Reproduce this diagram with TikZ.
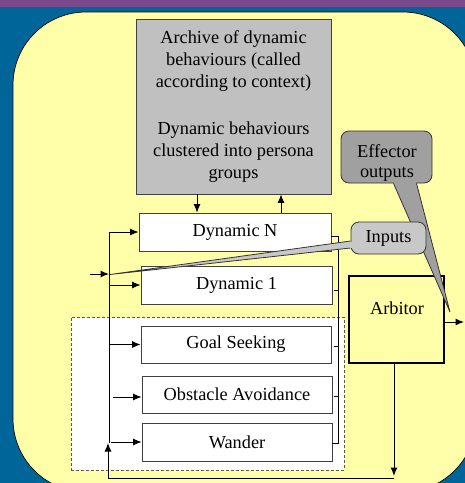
\documentclass[tikz,border=0pt]{standalone}
\usepackage{fontspec}
\setmainfont{Liberation Serif}
\usetikzlibrary{arrows.meta}
\definecolor{bgblue}{RGB}{0,102,153}
\definecolor{topband}{RGB}{122,74,140}
\definecolor{paleyellow}{RGB}{255,255,170}
\definecolor{archgray}{RGB}{192,192,192}
\definecolor{effgray}{RGB}{160,160,160}
\definecolor{inpgray}{RGB}{200,200,200}
\begin{document}
\begin{tikzpicture}[x=1pt,y=-1pt,
  lbl/.style={font=\fontsize{18.3}{22}\selectfont},
  box/.style={draw=black!75, fill=white, line width=0.8pt, inner sep=0pt, lbl},
  arr/.style={-{Latex[length=8.5pt,width=7pt]}, line width=1pt},
  conn/.style={line width=0.9pt},
  callout/.style={draw=black!80, line width=0.8pt, rounded corners=8pt, inner sep=0pt}]
\useasboundingbox (0,0) rectangle (465,483);
\fill[bgblue] (0,0) rectangle (465,483);
\fill[topband] (0,0) rectangle (465,7);
\draw[fill=paleyellow, rounded corners=73pt, line width=0.7pt] (13,12) rectangle (476,492);

% archive
\node[draw=black!75, fill=archgray, line width=0.8pt, minimum width=195pt, minimum height=175pt,
      align=center, lbl, inner sep=0pt] (arch) at (233.5,106.5)
  {Archive of dynamic\\behaviours (called\\according to context)\\[25pt]Dynamic behaviours\\clustered into persona\\groups};

% dashed group
\node[draw=black!65, dashed, dash pattern=on 3pt off 2pt, fill=white, line width=0.8pt,
      minimum width=273pt, minimum height=153pt, inner sep=0pt] (grp) at (207.5,393.5) {};

% behaviour boxes
\node[box, minimum width=192pt, minimum height=38pt] (dynN) at (235,232) {Dynamic N};
\node[box, minimum width=191pt, minimum height=38pt] (dyn1) at (236.5,285) {Dynamic 1};
\node[box, minimum width=190pt, minimum height=37pt] (goal) at (236,344.5) {Goal Seeking};
\node[box, minimum width=190pt, minimum height=37pt] (obst) at (237,394.5) {Obstacle Avoidance};
\node[box, minimum width=190pt, minimum height=38pt] (wand) at (237,442) {Wander};

% archive arrows
\draw[arr] ([xshift=-36.5pt]arch.south) -- ([xshift=-36.5pt]arch.south |- dynN.north);
\draw[arr] ([xshift=47.5pt]arch.south |- dynN.north) -- ([xshift=47.5pt]arch.south);

% input bus
\coordinate (busTop) at (109,232);
\coordinate (busBot) at (109,443);
\coordinate (inStart) at (90,274);
\coordinate (obstIn) at (113,397);
\coordinate (wandIn) at (111,442);
\draw[conn] (busTop) -- (busBot);
\draw[arr] (busTop) -- (dynN.west);
\draw[arr] (busTop |- dyn1.west) -- (dyn1.west);
\draw[arr] (busTop |- goal.west) -- (goal.west);
\draw[arr] (obstIn) -- (obst.west |- obstIn);
\draw[arr] (wandIn) -- (wand.west);
\draw[arr] (inStart) -- (busTop |- inStart);

% output collector
\coordinate (colTop) at (338,236);
\coordinate (colBot) at (338,443);
\draw[line width=0.7pt] (dynN.east |- colTop) -- (colTop) -- (colBot) -- (wand.east |- colBot);
\draw[line width=0.7pt] ([xshift=-4pt,yshift=-5pt]colTop |- dyn1.east) -- ([xshift=1pt,yshift=-5pt]colTop |- dyn1.east);
\draw[line width=0.7pt] ([xshift=-4pt,yshift=-2pt]colTop |- goal.east) -- ([xshift=1pt,yshift=-2pt]colTop |- goal.east);
\draw[line width=0.7pt] ([xshift=-4pt,yshift=-2pt]colTop |- obst.east) -- ([xshift=1pt,yshift=-2pt]colTop |- obst.east);

% arbitor
\node[draw=black, line width=2pt, fill=paleyellow, minimum width=95pt, minimum height=87pt, inner sep=0pt] (arb) at (396.5,319.5) {};
\node[lbl, inner sep=0pt] (arbtxt) at (397,308) {Arbitor};
\coordinate (outEnd) at (464,322);
\draw[arr] (arb.east |- outEnd) -- (outEnd);
\coordinate (downEnd) at (394,476);
\coordinate (fbCorner) at (394,478);
\coordinate (fbLeft) at (108,478);
\draw[arr] (arb.south -| downEnd) -- (downEnd);
\draw[conn] (fbCorner) -- (fbLeft);
\draw[arr] (fbLeft) -- (fbLeft |- busBot);

% effector callout
\coordinate (effTip) at (450,312);
\node[callout, fill=effgray, minimum width=91pt, minimum height=52pt] (eff) at (386.5,157) {};
\node[align=center, inner sep=0pt, font=\fontsize{18.3}{20}\selectfont] (efftxt) at (387,163) {Effector\\outputs};
\draw[draw=black!80, line width=0.8pt, fill=effgray] ([xshift=7pt]eff.south) -- (effTip) -- ([xshift=30pt]eff.south);
\fill[effgray] ([xshift=7.5pt,yshift=2pt]eff.south) -- ([xshift=29.5pt,yshift=2pt]eff.south) -- ([xshift=29.5pt,yshift=-1pt]eff.south) -- ([xshift=7.5pt,yshift=-1pt]eff.south) -- cycle;

% inputs callout
\coordinate (inTip) at (110,274.5);
\node[callout, fill=inpgray, minimum width=75pt, minimum height=32pt, lbl] (inp) at (388.5,238) {Inputs};
\draw[draw=black!80, line width=0.8pt, fill=inpgray] ([yshift=-3pt]inp.west) -- (inTip) -- ([yshift=-10pt]inp.west);
\fill[inpgray] ([xshift=-1pt,yshift=-3.5pt]inp.west) rectangle ([xshift=2pt,yshift=-9.5pt]inp.west);
\end{tikzpicture}
\end{document}
